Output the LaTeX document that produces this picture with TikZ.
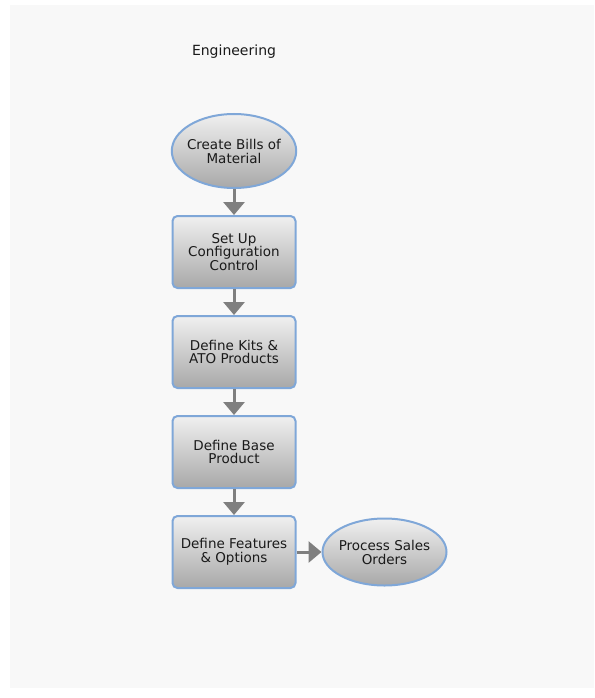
\documentclass[tikz,border=0pt]{standalone}
\usepackage{fontspec}
\setmainfont{DejaVu Sans}
\usepackage{xcolor}
\usepackage{tikz}
\usetikzlibrary{shapes.geometric, arrows.meta, positioning, calc}

\definecolor{panelgray}{HTML}{F8F8F8}
\definecolor{edgeblue}{HTML}{7FA7D8}
\definecolor{shadetop}{HTML}{F0F0F0}
\definecolor{shadebot}{HTML}{A8A8A8}
\definecolor{flowgray}{HTML}{7F7F7F}
\definecolor{inkgray}{HTML}{1A1A1A}

\begin{document}
\begin{tikzpicture}[
  task/.style={rectangle, draw=edgeblue, line width=2pt, rounded corners=5pt,
    top color=shadetop, bottom color=shadebot, text=inkgray, align=center,
    minimum width=123pt, minimum height=72pt, inner sep=0pt,
    font=\fontsize{13.5}{13.5}\selectfont},
  event/.style={ellipse, draw=edgeblue, line width=2pt,
    top color=shadetop, bottom color=shadebot, text=inkgray, align=center,
    minimum width=124pt, minimum height=74pt, inner ysep=0pt, inner xsep=-3pt,
    font=\fontsize{13.5}{14}\selectfont},
  flow/.style={-{Triangle[length=13pt, width=21pt]}, line width=3pt, draw=flowgray},
  node distance=26pt and 25pt
]
\useasboundingbox (0pt,0pt) rectangle (594pt,-698pt);
\fill[panelgray] (10pt,-5pt) rectangle (594pt,-688pt);
\node[text=inkgray, font=\fontsize{14}{16}\selectfont] (lane) at (234pt,-52pt) {Engineering};
\node[event] (bom) at (234pt,-151pt) {Create Bills of\\Material};
\node[task, below=of bom] (config) {Set Up\\Configuration\\Control};
\node[task, below=of config] (kits) {Define Kits \&\\ATO Products};
\node[task, below=of kits] (base) {Define Base\\Product};
\node[task, below=of base] (features) {Define Features\\\& Options};
\node[event, right=of features, minimum height=67pt] (sales) {Process Sales\\Orders};
\draw[flow] (bom) -- (config);
\draw[flow] (config) -- (kits);
\draw[flow] (kits) -- (base);
\draw[flow] (base) -- (features);
\draw[flow] (features) -- (sales);
\end{tikzpicture}
\end{document}
